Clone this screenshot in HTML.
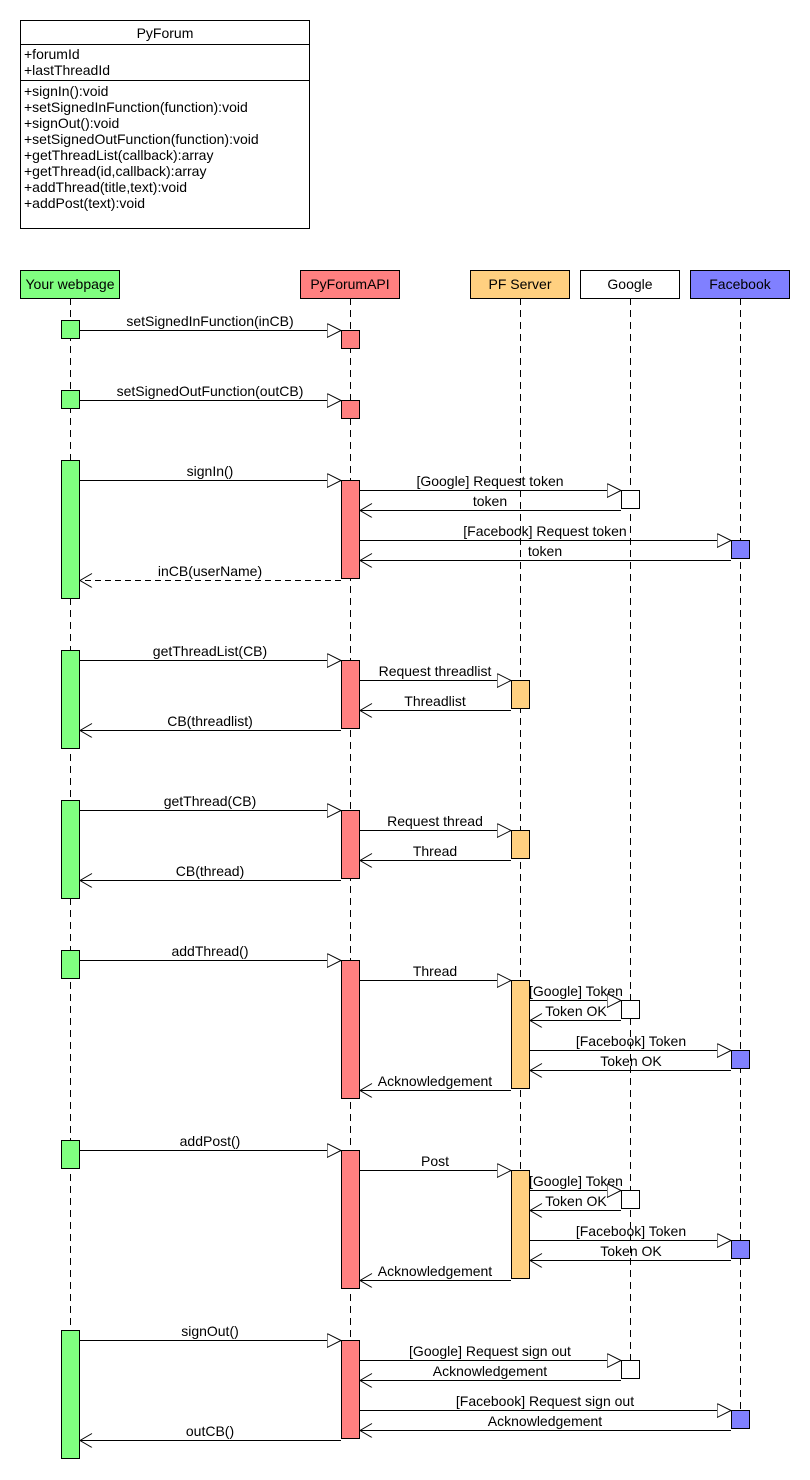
<!DOCTYPE html>
<html><head><meta charset="utf-8"><style>
html,body{margin:0;padding:0;background:#fff;}
svg{display:block;}
text{font-family:"Liberation Sans",sans-serif;font-size:14px;fill:#000;}
</style></head><body>
<svg width="810" height="1480" viewBox="0 0 810 1480" xmlns="http://www.w3.org/2000/svg">
<defs>
<marker id="tri" markerWidth="16" markerHeight="16" refX="14" refY="7" orient="auto" markerUnits="userSpaceOnUse"><path d="M0,0 L14,7 L0,14 Z" fill="#fff" stroke="#000" stroke-width="1"/></marker>
<marker id="opn" markerWidth="16" markerHeight="16" refX="13" refY="7" orient="auto" markerUnits="userSpaceOnUse"><path d="M1,0 L13,7 L1,14" fill="none" stroke="#000" stroke-width="1"/></marker>
</defs>
<rect x="20.5" y="20.5" width="289" height="208" fill="#fff" stroke="#000"/>
<line x1="20" y1="44.5" x2="310" y2="44.5" stroke="#000"/>
<line x1="20" y1="80.5" x2="310" y2="80.5" stroke="#000"/>
<text x="165" y="38" text-anchor="middle">PyForum</text>
<g>
<text x="24" y="59">+forumId</text>
<text x="24" y="75">+lastThreadId</text>
<text x="24" y="96">+signIn():void</text>
<text x="24" y="112">+setSignedInFunction(function):void</text>
<text x="24" y="128">+signOut():void</text>
<text x="24" y="144">+setSignedOutFunction(function):void</text>
<text x="24" y="160">+getThreadList(callback):array</text>
<text x="24" y="176">+getThread(id,callback):array</text>
<text x="24" y="192">+addThread(title,text):void</text>
<text x="24" y="208">+addPost(text):void</text>
</g>
<g stroke="#000" stroke-dasharray="7,5" stroke-width="1">
<line x1="70.5" y1="298" x2="70.5" y2="1458"/>
<line x1="350.5" y1="298" x2="350.5" y2="1438"/>
<line x1="520.5" y1="298" x2="520.5" y2="1278"/>
<line x1="630.5" y1="298" x2="630.5" y2="1360"/>
<line x1="740.5" y1="298" x2="740.5" y2="1410"/>
</g>
<g stroke="#000">
<rect x="20.5" y="270.5" width="99" height="28" fill="#80ff80"/>
<rect x="300.5" y="270.5" width="99" height="28" fill="#ff8080"/>
<rect x="470.5" y="270.5" width="99" height="28" fill="#ffd080"/>
<rect x="580.5" y="270.5" width="99" height="28" fill="#fff"/>
<rect x="690.5" y="270.5" width="99" height="28" fill="#8080ff"/>
</g>
<text x="70" y="289" text-anchor="middle">Your webpage</text>
<text x="350" y="289" text-anchor="middle">PyForumAPI</text>
<text x="520" y="289" text-anchor="middle">PF Server</text>
<text x="630" y="289" text-anchor="middle">Google</text>
<text x="740" y="289" text-anchor="middle">Facebook</text>
<g stroke="#000">
<g fill="#80ff80">
<rect x="61.5" y="320.5" width="18" height="18"/>
<rect x="61.5" y="390.5" width="18" height="18"/>
<rect x="61.5" y="460.5" width="18" height="138"/>
<rect x="61.5" y="650.5" width="18" height="98"/>
<rect x="61.5" y="800.5" width="18" height="98"/>
<rect x="61.5" y="950.5" width="18" height="28"/>
<rect x="61.5" y="1140.5" width="18" height="28"/>
<rect x="61.5" y="1330.5" width="18" height="128"/>
</g>
<g fill="#ff8080">
<rect x="341.5" y="330.5" width="18" height="18"/>
<rect x="341.5" y="400.5" width="18" height="18"/>
<rect x="341.5" y="480.5" width="18" height="98"/>
<rect x="341.5" y="660.5" width="18" height="68"/>
<rect x="341.5" y="810.5" width="18" height="68"/>
<rect x="341.5" y="960.5" width="18" height="138"/>
<rect x="341.5" y="1150.5" width="18" height="138"/>
<rect x="341.5" y="1340.5" width="18" height="98"/>
</g>
<g fill="#ffd080">
<rect x="511.5" y="680.5" width="18" height="28"/>
<rect x="511.5" y="830.5" width="18" height="28"/>
<rect x="511.5" y="980.5" width="18" height="108"/>
<rect x="511.5" y="1170.5" width="18" height="108"/>
</g>
<g fill="#fff">
<rect x="621.5" y="490.5" width="18" height="18"/>
<rect x="621.5" y="1000.5" width="18" height="18"/>
<rect x="621.5" y="1190.5" width="18" height="18"/>
<rect x="621.5" y="1360.5" width="18" height="18"/>
</g>
<g fill="#8080ff">
<rect x="731.5" y="540.5" width="18" height="18"/>
<rect x="731.5" y="1050.5" width="18" height="18"/>
<rect x="731.5" y="1240.5" width="18" height="18"/>
<rect x="731.5" y="1410.5" width="18" height="18"/>
</g>
</g>
<g stroke="#000" fill="none" marker-end="url(#tri)">
<line x1="79" y1="330.5" x2="341" y2="330.5"/>
<line x1="79" y1="400.5" x2="341" y2="400.5"/>
<line x1="79" y1="480.5" x2="341" y2="480.5"/>
<line x1="359" y1="490.5" x2="621" y2="490.5"/>
<line x1="359" y1="540.5" x2="731" y2="540.5"/>
<line x1="79" y1="660.5" x2="341" y2="660.5"/>
<line x1="359" y1="680.5" x2="511" y2="680.5"/>
<line x1="79" y1="810.5" x2="341" y2="810.5"/>
<line x1="359" y1="830.5" x2="511" y2="830.5"/>
<line x1="79" y1="960.5" x2="341" y2="960.5"/>
<line x1="359" y1="980.5" x2="511" y2="980.5"/>
<line x1="529" y1="1000.5" x2="621" y2="1000.5"/>
<line x1="529" y1="1050.5" x2="731" y2="1050.5"/>
<line x1="79" y1="1150.5" x2="341" y2="1150.5"/>
<line x1="359" y1="1170.5" x2="511" y2="1170.5"/>
<line x1="529" y1="1190.5" x2="621" y2="1190.5"/>
<line x1="529" y1="1240.5" x2="731" y2="1240.5"/>
<line x1="79" y1="1340.5" x2="341" y2="1340.5"/>
<line x1="359" y1="1360.5" x2="621" y2="1360.5"/>
<line x1="359" y1="1410.5" x2="731" y2="1410.5"/>
</g>
<g stroke="#000" fill="none" marker-end="url(#opn)">
<line x1="621" y1="510.5" x2="360" y2="510.5"/>
<line x1="731" y1="560.5" x2="360" y2="560.5"/>
<line x1="341" y1="580.5" x2="80" y2="580.5" stroke-dasharray="6,4"/>
<line x1="511" y1="710.5" x2="360" y2="710.5"/>
<line x1="341" y1="730.5" x2="80" y2="730.5"/>
<line x1="511" y1="860.5" x2="360" y2="860.5"/>
<line x1="341" y1="880.5" x2="80" y2="880.5"/>
<line x1="621" y1="1020.5" x2="530" y2="1020.5"/>
<line x1="731" y1="1070.5" x2="530" y2="1070.5"/>
<line x1="511" y1="1090.5" x2="360" y2="1090.5"/>
<line x1="621" y1="1210.5" x2="530" y2="1210.5"/>
<line x1="731" y1="1260.5" x2="530" y2="1260.5"/>
<line x1="511" y1="1280.5" x2="360" y2="1280.5"/>
<line x1="621" y1="1380.5" x2="360" y2="1380.5"/>
<line x1="731" y1="1430.5" x2="360" y2="1430.5"/>
<line x1="341" y1="1440.5" x2="80" y2="1440.5"/>
</g>
<g text-anchor="middle">
<text x="210" y="326">setSignedInFunction(inCB)</text>
<text x="210" y="396">setSignedOutFunction(outCB)</text>
<text x="210" y="476">signIn()</text>
<text x="490" y="486">[Google] Request token</text>
<text x="490" y="506">token</text>
<text x="545" y="536">[Facebook] Request token</text>
<text x="545" y="556">token</text>
<text x="210" y="576">inCB(userName)</text>
<text x="210" y="656">getThreadList(CB)</text>
<text x="435" y="676">Request threadlist</text>
<text x="435" y="706">Threadlist</text>
<text x="210" y="726">CB(threadlist)</text>
<text x="210" y="806">getThread(CB)</text>
<text x="435" y="826">Request thread</text>
<text x="435" y="856">Thread</text>
<text x="210" y="876">CB(thread)</text>
<text x="210" y="956">addThread()</text>
<text x="435" y="976">Thread</text>
<text x="576" y="996">[Google] Token</text>
<text x="576" y="1016">Token OK</text>
<text x="631" y="1046">[Facebook] Token</text>
<text x="631" y="1066">Token OK</text>
<text x="435" y="1086">Acknowledgement</text>
<text x="210" y="1146">addPost()</text>
<text x="435" y="1166">Post</text>
<text x="576" y="1186">[Google] Token</text>
<text x="576" y="1206">Token OK</text>
<text x="631" y="1236">[Facebook] Token</text>
<text x="631" y="1256">Token OK</text>
<text x="435" y="1276">Acknowledgement</text>
<text x="210" y="1336">signOut()</text>
<text x="490" y="1356">[Google] Request sign out</text>
<text x="490" y="1376">Acknowledgement</text>
<text x="545" y="1406">[Facebook] Request sign out</text>
<text x="545" y="1426">Acknowledgement</text>
<text x="210" y="1436">outCB()</text>
</g>
</svg>
</body></html>
